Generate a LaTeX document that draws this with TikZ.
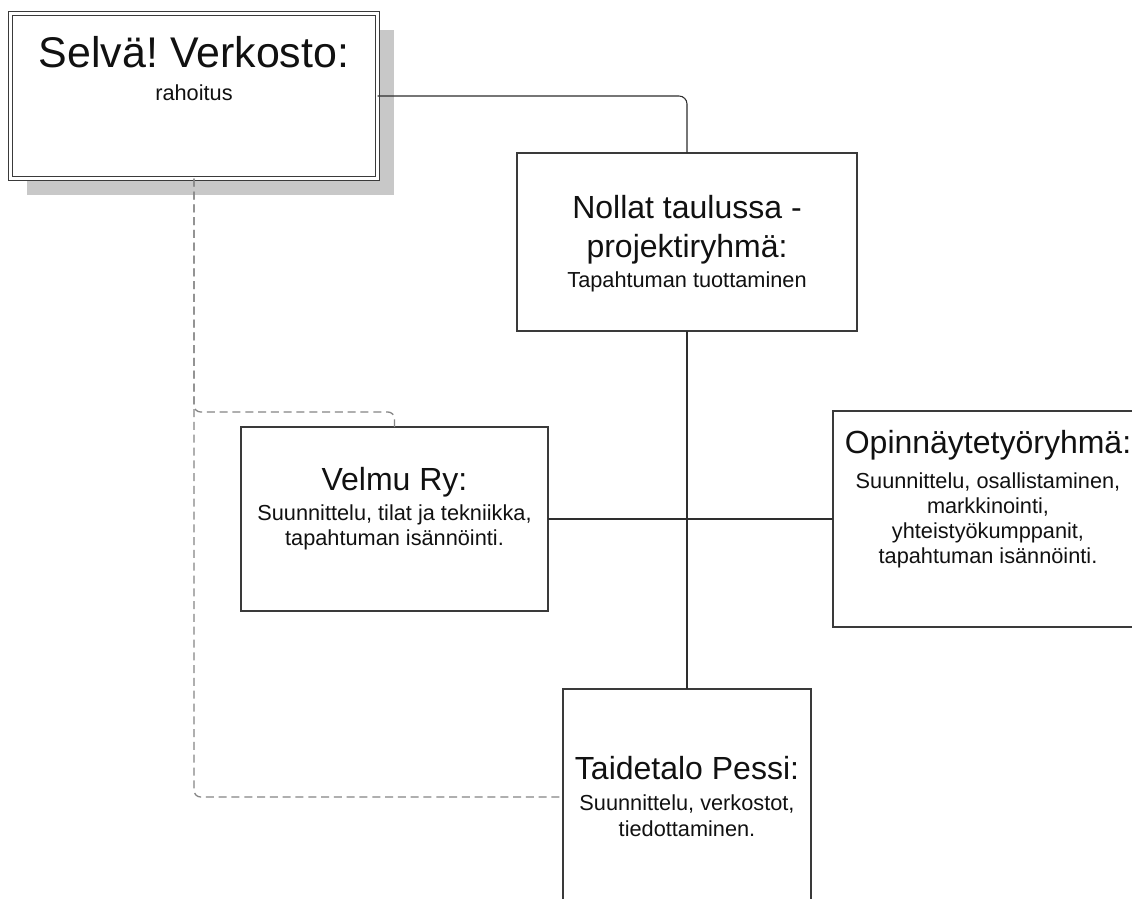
\documentclass[tikz,border=0pt]{standalone}
\usepackage{fontspec}
\setmainfont{Liberation Sans}
\usetikzlibrary{shadows}
\definecolor{boxline}{HTML}{3A3A3A}
\definecolor{conline}{HTML}{2E2E2E}
\definecolor{dashgray}{HTML}{858585}
\definecolor{shadowgray}{HTML}{C8C8C8}
\definecolor{txt}{HTML}{111111}
\frenchspacing
\begin{document}
\begin{tikzpicture}[x=0.75pt,y=-0.75pt,
  box/.style={draw=boxline, line width=0.9pt, fill=white, inner sep=0pt, outer sep=0pt},
  mainbox/.style={draw=boxline, line width=0.75pt, double=white, double distance=1.9pt,
    fill=white, inner sep=0pt, outer sep=0pt,
    drop shadow={shadow xshift=12.5pt, shadow yshift=-12.5pt, fill=shadowgray, opacity=1}},
  bigtitle/.style={anchor=base, inner sep=0pt, text=txt, font=\fontsize{32.2}{38}\selectfont},
  title/.style={anchor=base, inner sep=0pt, text=txt, font=\fontsize{24}{29}\selectfont},
  body/.style={anchor=base, inner sep=0pt, text=txt, font=\fontsize{16.3}{19.5}\selectfont},
  con/.style={draw=conline, line width=0.8pt},
  dashcon/.style={draw=dashgray, line width=0.95pt, dash pattern=on 6pt off 3.6pt}]
\clip (0,0) rectangle (1132,899);
\fill[white] (0,0) rectangle (1132,899);

% boxes
\node[mainbox, minimum width=275.6pt, minimum height=124.1pt] (S) at (194,96) {};
\node[box, minimum width=255pt, minimum height=133.5pt] (N) at (687,242) {};
\node[box, minimum width=230.25pt, minimum height=138pt] (V) at (394.5,519) {};
\node[box, minimum width=232.5pt, minimum height=162pt] (O) at (988,519) {};
\node[box, minimum width=186pt, minimum height=162pt] (T) at (687,797) {};

% texts
\node[bigtitle] (S1) at (194,68) {Selvä! Verkosto:};
\node[body] (S2) at (194,100) {rahoitus};

\node[title] (N1) at (687,218) {Nollat taulussa -};
\node[title] (N2) at (687,257) {projektiryhmä:};
\node[body] (N3) at (687,287) {Tapahtuman tuottaminen};

\node[title] (V1) at (394.5,490) {Velmu Ry:};
\node[body] (V2) at (394.5,520) {Suunnittelu, tilat ja tekniikka,};
\node[body] (V3) at (394.5,545) {tapahtuman isännöinti.};

\node[title] (O1) at (988,453) {Opinnäytetyöryhmä:};
\node[body] (O2) at (988,488) {Suunnittelu, osallistaminen,};
\node[body] (O3) at (988,513) {markkinointi,};
\node[body] (O4) at (988,538) {yhteistyökumppanit,};
\node[body] (O5) at (988,563) {tapahtuman isännöinti.};

\node[title] (T1) at (687,779) {Taidetalo Pessi:};
\node[body] (T2) at (687,810) {Suunnittelu, verkostot,};
\node[body] (T3) at (687,836) {tiedottaminen.};

% connectors
\coordinate (vbend) at (194,412);
\draw[con, rounded corners=6pt] (S.east) -| (N.north);
\draw[con] (N.south) -- (T.north);
\draw[con] (V.east) -- (O.west);
\draw[dashcon, rounded corners=5pt] (S.south) -- (vbend) -| (V.north);
\draw[dashcon, rounded corners=5pt] (S.south) |- (T.west);
\end{tikzpicture}
\end{document}
